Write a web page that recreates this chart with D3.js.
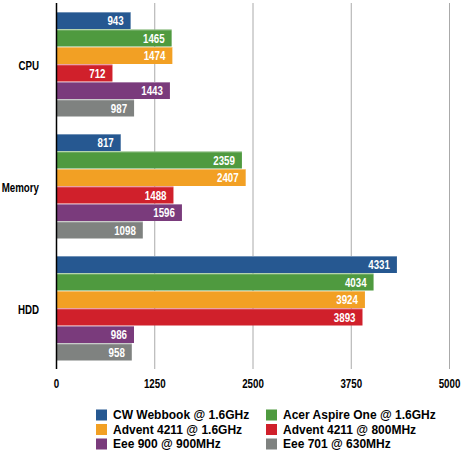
<!DOCTYPE html>
<html><head><meta charset="utf-8">
<script src="https://cdn.jsdelivr.net/npm/d3@7/dist/d3.min.js"></script>
<style>
body{margin:0;background:#fff;}
svg{display:block;}
text{font-family:"Liberation Sans",Arial,sans-serif;font-weight:bold;}
</style></head>
<body>
<script>
const categories = ["CPU", "Memory", "HDD"];
const seriesNames = ["CW Webbook @ 1.6GHz", "Acer Aspire One @ 1.6GHz", "Advent 4211 @ 1.6GHz", "Advent 4211 @ 800MHz", "Eee 900 @ 900MHz", "Eee 701 @ 630MHz"];
const seriesColors = ["#265891", "#4f9a3f", "#f2a024", "#d0202b", "#7a3b7c", "#7f8280"];
const cwWebbook = [943, 817, 4331];
const acerAspireOne = [1465, 2359, 4034];
const advent16 = [1474, 2407, 3924];
const advent800 = [712, 1488, 3893];
const eee900 = [1443, 1596, 986];
const eee701 = [987, 1098, 958];
const tickValues = [0, 1250, 2500, 3750, 5000];

const series = [cwWebbook, acerAspireOne, advent16, advent800, eee900, eee701];
const W = 466, H = 455;
const COND = 0.78;
const svg = d3.select("body").append("svg").attr("width", W).attr("height", H);

const x = d3.scaleLinear().domain([0, 5000]).range([56.5, 449.5]);
const y0 = d3.scaleBand().domain(categories).range([3, 369]).padding(0);
const y1 = d3.scaleBand().domain(d3.range(series.length)).range([8.5, y0.bandwidth() - 8.5]).padding(0);

function condText(sel, tx, ty, anchor, size, fill, str) {
  sel.append("g").attr("transform", `translate(${tx},${ty}) scale(${COND},1)`)
    .append("text").attr("x", 0).attr("y", 0).attr("dy", "0.36em")
    .attr("text-anchor", anchor).attr("font-size", size).attr("fill", fill).text(str);
}

// gridlines
svg.append("g").selectAll("line").data(tickValues.slice(1)).join("line")
  .attr("x1", d => x(d)).attr("x2", d => x(d))
  .attr("y1", 3).attr("y2", 369)
  .attr("stroke", "#aaaaaa").attr("stroke-width", 1);

// bars
const groups = svg.append("g").selectAll("g").data(categories).join("g")
  .attr("transform", c => `translate(0,${y0(c)})`);
groups.each(function(c, ci) {
  const g = d3.select(this);
  series.forEach((s, si) => {
    const v = s[ci];
    const yy = y1(si), h = y1.bandwidth();
    g.append("rect").attr("x", x(0)).attr("y", yy + 0.5).attr("width", x(v) - x(0)).attr("height", h - 0.5)
      .attr("fill", seriesColors[si]);
    g.append("rect").attr("x", x(0)).attr("y", yy + 0.5).attr("width", x(v) - x(0)).attr("height", 1)
      .attr("fill", "#ffffff").attr("opacity", 0.35);
    condText(g, x(v) - 7, yy + h / 2 + 0.5, "end", 12.5, "#fff", v);
  });
});

// zero axis
svg.append("line").attr("x1", x(0)).attr("x2", x(0)).attr("y1", 3).attr("y2", 369)
  .attr("stroke", "#000").attr("stroke-width", 1.5);

// category labels
categories.forEach(c => condText(svg, 39, y0(c) + y0.bandwidth() / 2 + 1, "end", 12.5, "#000", c));

// tick labels
tickValues.forEach(d => condText(svg, x(d), 383, "middle", 12.5, "#000", d));

// legend
const legend = svg.append("g");
seriesNames.forEach((n, i) => {
  const col = i % 2, row = Math.floor(i / 2);
  const lx = col === 0 ? 96 : 266, ly = 415 + row * 14.5;
  legend.append("rect").attr("x", lx).attr("y", ly - 5.5).attr("width", 11).attr("height", 11).attr("fill", seriesColors[i]);
  legend.append("text").attr("x", lx + 17).attr("y", ly).attr("dy", "0.36em")
    .attr("font-size", 12).attr("fill", "#000").text(n);
});
</script>
</body></html>
